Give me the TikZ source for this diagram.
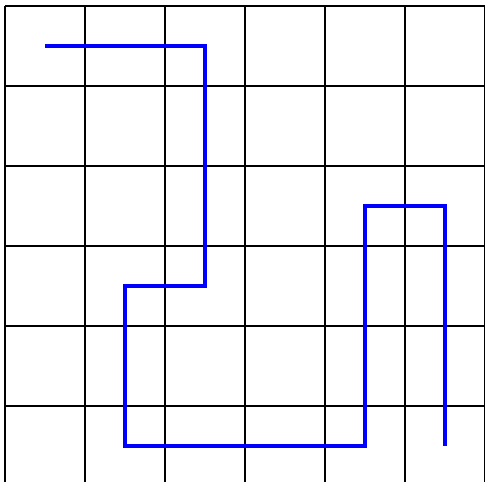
\documentclass[tikz,border=0pt]{standalone}
\usetikzlibrary{calc}

\begin{document}
\begin{tikzpicture}[x=1.6cm, y=1.6cm]
    % Define colours
    \definecolor{gridColour}{HTML}{000000}
    \definecolor{pathColour}{HTML}{0000FF}

    % Define grid size
    \def\gridLimit{6}

    % Fix the visible region
    \useasboundingbox (-0.0625,0.05) rectangle (6.0,6.075);
    \clip (-0.0625,0.05) rectangle (6.0,6.075);

    % Draw grid
    \draw[step=1, gridColour, line width=0.85pt] (0,0) grid (\gridLimit,\gridLimit);

    % Define corners of the path
    \coordinate (P0) at (0.5,5.5);
    \coordinate (P1) at (2.5,5.5);
    \coordinate (P2) at (2.5,2.5);
    \coordinate (P3) at (1.5,2.5);
    \coordinate (P4) at (1.5,0.5);
    \coordinate (P5) at (4.5,0.5);
    \coordinate (P6) at (4.5,3.5);
    \coordinate (P7) at (5.5,3.5);
    \coordinate (P8) at (5.5,0.5);

    % Draw the path
    \draw[pathColour, line width=2.8pt] (P0) -- (P1) -- (P2) -- (P3) -- (P4)
        -- (P5) -- (P6) -- (P7) -- (P8);

\end{tikzpicture}
\end{document}
